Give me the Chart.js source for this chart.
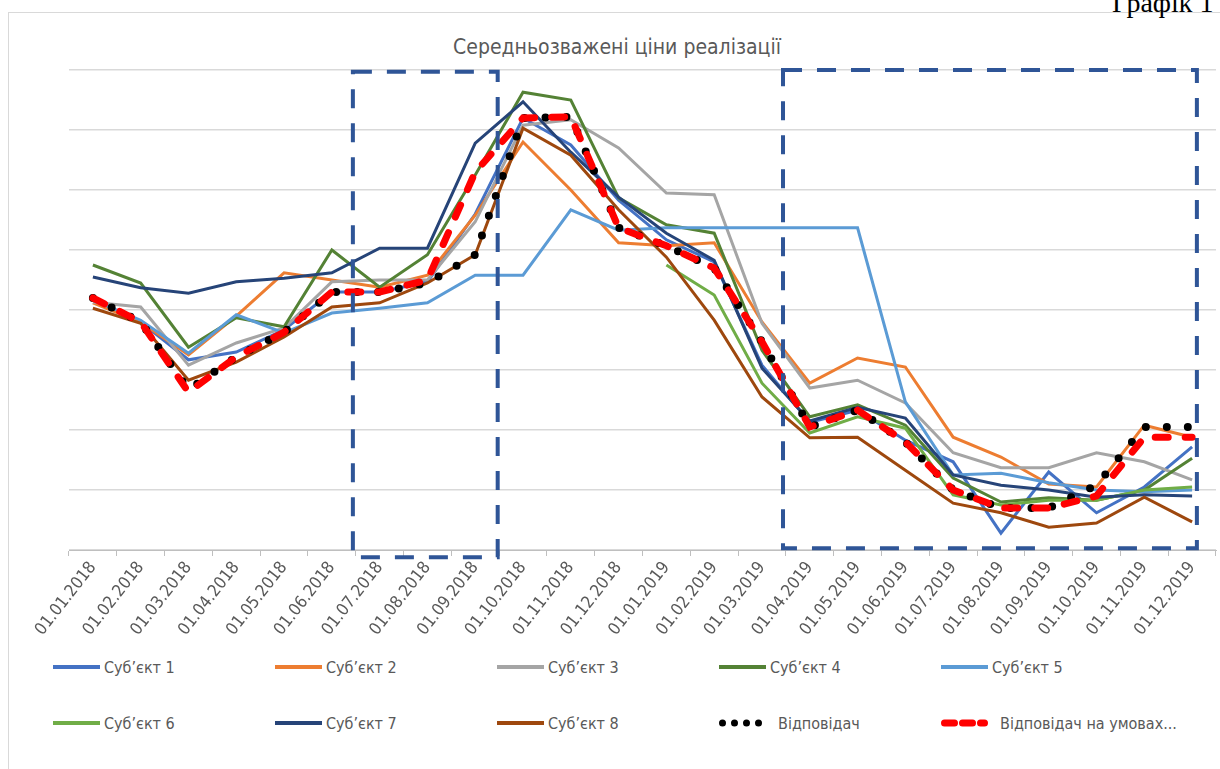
<!DOCTYPE html>
<html lang="uk">
<head>
<meta charset="utf-8">
<title>Середньозважені ціни реалізації</title>
<script src="https://cdn.jsdelivr.net/npm/chart.js@4.4.1/dist/chart.umd.min.js"></script>
<style>
  html, body { margin: 0; padding: 0; background: #fff; width: 1220px; height: 769px; overflow: hidden; }
  body { position: relative; font-family: "Liberation Sans Narrow", "DejaVu Sans Condensed", sans-serif; }
  #frame { position: absolute; left: 8px; top: 12px; width: 1240px; height: 780px;
           border-top: 1px solid #d9d9d9; border-left: 1px solid #d9d9d9; }
  #corner { position: absolute; left: 1112px; top: -11px; font-family: "Liberation Serif", serif;
            font-size: 28px; line-height: 28px; color: #000; white-space: nowrap; }
  #title { position: absolute; left: 8px; width: 1218px; top: 33px; text-align: center;
           font-size: 21px; line-height: 28px; color: #595959; }
  #wrap { position: absolute; left: 8px; top: 12px; width: 1212px; height: 640px; }
  .lg { position: absolute; height: 24px; display: flex; align-items: center;
        font-size: 16px; color: #595959; white-space: nowrap; }
  .lg svg { margin-right: 4px; }
</style>
</head>
<body>
<div id="frame"></div>
<div id="corner">Графік 1</div>
<div id="title">Середньозважені ціни реалізації</div>
<div id="wrap"><canvas id="chart"></canvas></div>
<div id="legend"></div>
<script>
// Середньозважені ціни реалізації — 8 суб'єктів + відповідач (дві серії)
// значення, шкала умовна (0–80), підписів осі Y немає

var labels = ['01.01.2018', '01.02.2018', '01.03.2018', '01.04.2018', '01.05.2018', '01.06.2018',
              '01.07.2018', '01.08.2018', '01.09.2018', '01.10.2018', '01.11.2018', '01.12.2018',
              '01.01.2019', '01.02.2019', '01.03.2019', '01.04.2019', '01.05.2019', '01.06.2019',
              '01.07.2019', '01.08.2019', '01.09.2019', '01.10.2019', '01.11.2019', '01.12.2019'];

var names = ['Суб’єкт 1', 'Суб’єкт 2', 'Суб’єкт 3', 'Суб’єкт 4', 'Суб’єкт 5',
             'Суб’єкт 6', 'Суб’єкт 7', 'Суб’єкт 8', 'Відповідач', 'Відповідач на умовах...'];

var subj1 = [41.7, 38.0, 31.7, 33.0, 36.7, 43.0, 43.0, 44.7, 56.0, 72.0, 67.5, 58.3,
             51.7, 48.0, 30.8, 21.3, 23.3, 18.3, 14.7, 2.8, 13.0, 6.2, 10.5, 17.2];
var subj2 = [41.2, 38.0, 32.5, 39.0, 46.2, 45.0, 43.8, 45.8, 55.8, 68.0, 60.0, 51.2,
             50.7, 51.2, 38.0, 27.8, 32.0, 30.5, 18.8, 15.5, 11.0, 10.5, 20.8, 18.8];
var subj3 = [41.3, 40.5, 30.8, 34.5, 37.0, 44.7, 45.0, 45.0, 54.7, 70.8, 71.7, 67.0,
             59.5, 59.2, 37.8, 27.0, 28.3, 24.5, 16.2, 13.7, 13.7, 16.2, 14.7, 11.7];
var subj4 = [47.5, 44.5, 33.8, 38.7, 37.2, 50.0, 43.8, 49.2, 62.5, 76.3, 75.0, 58.7,
             54.2, 52.8, 33.3, 22.2, 24.2, 20.8, 12.0, 8.0, 8.7, 8.3, 10.0, 15.3];
var subj5 = [41.7, 38.3, 32.8, 39.2, 36.2, 39.5, 40.3, 41.2, 45.8, 45.8, 56.7, 53.3,
             53.7, 53.7, 53.7, 53.7, 53.7, 24.7, 12.5, 12.8, 11.2, 10.0, 9.7, 10.0];
var subj6 = [null, null, null, null, null, null, null, null, null, null, null, null,
             47.5, 42.5, 27.8, 19.5, 22.2, 20.3, 9.2, 7.5, 8.3, 8.3, 10.0, 10.5];
var subj7 = [45.5, 43.7, 42.8, 44.7, 45.3, 46.2, 50.3, 50.3, 67.8, 74.7, 66.3, 58.8,
             52.8, 48.3, 30.3, 21.5, 23.8, 22.0, 12.5, 10.8, 10.0, 8.8, 9.2, 9.0];
var subj8 = [40.3, 37.8, 28.3, 31.3, 35.5, 40.5, 41.2, 44.5, 49.2, 70.3, 65.8, 56.7,
             48.8, 38.3, 25.5, 18.7, 18.8, 13.3, 7.8, 6.2, 3.8, 4.5, 8.8, 4.7];
var respondent = [42.0, 38.0, 26.7, 32.2, 36.3, 43.0, 43.0, 44.5, 49.2, 72.0, 72.2, 53.7,
                  50.7, 47.0, 34.7, 20.5, 23.3, 18.0, 10.0, 7.0, 7.0, 10.8, 20.5, 20.5];
var respondentCond = [42.0, 38.0, 26.3, 32.2, 36.3, 43.0, 43.0, 45.0, 63.0, 72.0, 72.2, 53.7,
                      50.7, 47.0, 34.7, 20.5, 23.3, 18.0, 10.0, 7.0, 7.0, 9.0, 18.8, 18.8];

var yTicks = [0, 10, 20, 30, 40, 50, 60, 70, 80];

var seriesData = [subj1, subj2, subj3, subj4, subj5, subj6, subj7, subj8, respondent, respondentCond];
var colors = ['#4472c4', '#ed7d31', '#a5a5a5', '#548235', '#5b9bd5',
              '#70ad47', '#264478', '#9e480e', '#000000', '#ff0000'];

var datasets = seriesData.map(function (d, i) {
  var ds = {
    label: names[i],
    data: d,
    borderColor: colors[i],
    backgroundColor: colors[i],
    borderWidth: 3,
    pointRadius: 0,
    tension: 0,
    order: seriesData.length - i   // в Excel пізніші серії лежать зверху
  };
  if (i === 8) { ds.borderWidth = 8; ds.borderDash = [0, 21]; ds.borderCapStyle = 'round'; }
  if (i === 9) { ds.borderWidth = 7; ds.borderDash = [13, 17]; ds.borderCapStyle = 'round'; }
  return ds;
});

// пунктирні рамки-виділення (в одиницях осей)
var dashedFrames = {
  id: 'dashedFrames',
  afterDatasetsDraw: function (chart, args, opts) {
    var xs = chart.scales.x, ys = chart.scales.y, ctx = chart.ctx;
    ctx.save();
    ctx.strokeStyle = opts.color;
    ctx.lineWidth = opts.width;
    ctx.setLineDash(opts.dash);
    opts.boxes.forEach(function (b) {
      var l = xs.getPixelForValue(b.from), r = xs.getPixelForValue(b.to);
      var t = ys.getPixelForValue(b.top), btm = ys.getPixelForValue(b.bottom);
      ctx.strokeRect(l, t, r - l, btm - t);
    });
    ctx.restore();
  }
};

var chart = new Chart(document.getElementById('chart').getContext('2d'), {
  type: 'line',
  data: { labels: labels, datasets: datasets },
  plugins: [dashedFrames],
  options: {
    responsive: true,
    maintainAspectRatio: false,
    animation: false,
    layout: { padding: { top: 58, right: 4, bottom: 0, left: 0 } },
    plugins: {
      legend: { display: false },
      title: { display: false },
      tooltip: { enabled: false },
      dashedFrames: {
        color: '#2f5597', width: 4, dash: [19, 15],
        boxes: [
          { from: 5.44, to: 8.47, top: 79.7, bottom: -1.2 },
          { from: 14.44, to: 23.1, top: 80, bottom: 0.3 }
        ]
      }
    },
    scales: {
      x: {
        offset: true,
        afterFit: function (s) { s.height = 102; },
        border: { display: true, color: '#bfbfbf', width: 1 },
        grid: { drawOnChartArea: false, offset: true, drawTicks: true, tickLength: 6, color: '#bfbfbf' },
        ticks: {
          autoSkip: false, minRotation: 52, maxRotation: 52, padding: 2,
          color: '#595959',
          font: { family: '"Liberation Sans Narrow", "DejaVu Sans Condensed", sans-serif', size: 17 }
        }
      },
      y: {
        min: 0, max: 80,
        afterFit: function (s) { s.width = 61; },
        afterBuildTicks: function (s) { s.ticks = yTicks.map(function (v) { return { value: v }; }); },
        border: { display: false },
        grid: { color: '#d9d9d9', lineWidth: 1.5, drawTicks: false },
        ticks: { display: false }
      }
    }
  }
});

// легенда: 2 ряди по 5 колонок, як у Excel
var legend = document.getElementById('legend');
datasets.forEach(function (ds, i) {
  var col = i % 5, row = Math.floor(i / 5);
  var item = document.createElement('div');
  item.className = 'lg';
  item.style.left = (53 + 222 * col) + 'px';
  item.style.top = (row === 0 ? 655 : 711) + 'px';
  var dash = ds.borderDash ? ds.borderDash.join(' ') : 'none';
  var cap = ds.borderCapStyle || 'butt';
  var w = ds.borderDash ? Math.min(ds.borderWidth, 7) : 4;
  var x1 = ds.borderDash ? w / 2 : 0, x2 = ds.borderDash ? 47 - w / 2 : 47;
  var dashAttr = i === 8 ? '0 12' : (i === 9 ? '10 8' : dash);
  item.innerHTML = '<svg width="47" height="10"><line x1="' + x1 + '" y1="5" x2="' + x2 + '" y2="5" stroke="' +
    ds.borderColor + '" stroke-width="' + w + '" stroke-linecap="' + cap + '"' +
    (dashAttr !== 'none' ? ' stroke-dasharray="' + dashAttr + '"' : '') + '/></svg>' +
    (i >= 8 ? '<span style="margin-left:8px">' : '<span>') + ds.label + '</span>';
  legend.appendChild(item);
});
</script>
</body>
</html>
